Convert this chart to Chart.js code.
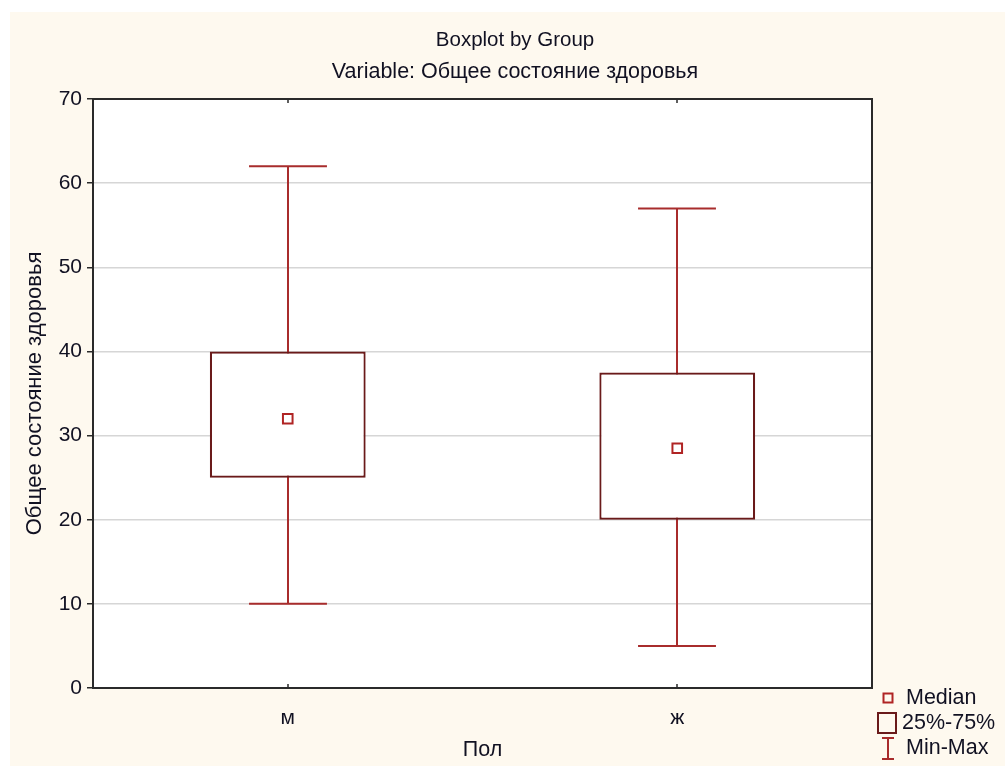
<!DOCTYPE html>
<html>
<head>
<meta charset="utf-8">
<title>Boxplot by Group</title>
<script src="https://cdn.jsdelivr.net/npm/chart.js@4/dist/chart.umd.min.js"></script>
<style>
  html, body { margin: 0; padding: 0; background: #ffffff; }
  #wrap { position: absolute; left: 0; top: 0; width: 1005px; height: 766px; }
</style>
</head>
<body>
<div id="wrap"><canvas id="chart" width="1005" height="766"></canvas></div>
<script>
// Group summary statistics for "Общее состояние здоровья" by sex
const groups = ['м', 'ж'];
const minValues = [10, 5];
const q1Values = [25, 20];
const medianValues = [32, 28.5];
const q3Values = [40, 37.5];
const maxValues = [62, 57];
const yTickValues = [0, 10, 20, 30, 40, 50, 60, 70];

const titleText = 'Boxplot by Group';
const subtitleText = 'Variable: Общее состояние здоровья';
const legendLabels = ['Median', '25%-75%', 'Min-Max'];

const FONT = '"Liberation Sans", Arial, sans-serif';
const BG = '#fef9ef';
const BOX_COLOR = '#6a1a1a';
const WHISKER_COLOR = '#a82c2c';
const MEDIAN_COLOR = '#b02424';
const TEXT_COLOR = '#111122';

// Cream page background, white plot area, headings, frame, inner tick marks
const framePlugin = {
  id: 'frame',
  beforeDraw(chart) {
    const { ctx, chartArea: a } = chart;
    ctx.save();
    ctx.fillStyle = BG;
    ctx.fillRect(10, 12, chart.width - 10, chart.height - 12);
    ctx.fillStyle = '#ffffff';
    ctx.fillRect(a.left, a.top, a.right - a.left, a.bottom - a.top);
    // headings
    ctx.fillStyle = TEXT_COLOR;
    ctx.textAlign = 'center';
    ctx.textBaseline = 'middle';
    ctx.font = '20.5px ' + FONT;
    ctx.fillText(titleText, 515, 40);
    ctx.font = '21.5px ' + FONT;
    ctx.fillText(subtitleText, 515, 72);
    ctx.restore();
  },
  afterDraw(chart) {
    const { ctx, chartArea: a } = chart;
    const x = chart.scales.x;
    ctx.save();
    ctx.strokeStyle = '#2a2a2a';
    ctx.lineWidth = 2;
    ctx.strokeRect(a.left, a.top, a.right - a.left, a.bottom - a.top);
    ctx.lineWidth = 1.5;
    groups.forEach((g, i) => {
      const px = Math.round(x.getPixelForValue(i));
      ctx.beginPath();
      ctx.moveTo(px, a.top);
      ctx.lineTo(px, a.top + 4);
      ctx.moveTo(px, a.bottom);
      ctx.lineTo(px, a.bottom - 4);
      ctx.stroke();
    });
    ctx.restore();
  }
};

// Whiskers with end caps, drawn beneath the boxes
const whiskerPlugin = {
  id: 'whiskers',
  beforeDatasetsDraw(chart) {
    const { ctx } = chart;
    const y = chart.scales.y;
    const boxes = chart.getDatasetMeta(0).data;
    ctx.save();
    ctx.strokeStyle = WHISKER_COLOR;
    ctx.lineWidth = 2;
    boxes.forEach((bar, i) => {
      const cx = Math.round(bar.x);
      const half = bar.width / 4;
      const yMin = y.getPixelForValue(minValues[i]);
      const yMax = y.getPixelForValue(maxValues[i]);
      ctx.beginPath();
      ctx.moveTo(cx, yMin);
      ctx.lineTo(cx, yMax);
      ctx.moveTo(cx - half, yMin);
      ctx.lineTo(cx + half, yMin);
      ctx.moveTo(cx - half, yMax);
      ctx.lineTo(cx + half, yMax);
      ctx.stroke();
    });
    ctx.restore();
  }
};

// Legend for median / quartile box / range, right of the plot
const legendPlugin = {
  id: 'boxLegend',
  afterDraw(chart) {
    const { ctx, chartArea: a } = chart;
    const x0 = a.right + 10;
    ctx.save();
    ctx.font = '21.5px ' + FONT;
    ctx.fillStyle = TEXT_COLOR;
    ctx.textBaseline = 'middle';
    ctx.textAlign = 'left';
    // Median marker
    let yy = a.bottom + 10;
    ctx.strokeStyle = MEDIAN_COLOR;
    ctx.lineWidth = 2;
    ctx.strokeRect(x0 + 1.5, yy - 4.5, 9, 9);
    ctx.fillText(legendLabels[0], x0 + 24, yy);
    // Quartile box
    yy += 25;
    ctx.strokeStyle = BOX_COLOR;
    ctx.strokeRect(x0 - 4, yy - 10, 18, 20);
    ctx.fillText(legendLabels[1], x0 + 20, yy);
    // Range whisker
    yy += 25;
    ctx.strokeStyle = WHISKER_COLOR;
    ctx.beginPath();
    ctx.moveTo(x0, yy - 10); ctx.lineTo(x0 + 12, yy - 10);
    ctx.moveTo(x0 + 6, yy - 10); ctx.lineTo(x0 + 6, yy + 11);
    ctx.moveTo(x0, yy + 11); ctx.lineTo(x0 + 12, yy + 11);
    ctx.stroke();
    ctx.fillText(legendLabels[2], x0 + 24, yy);
    ctx.restore();
  }
};

new Chart(document.getElementById('chart'), {
  type: 'bar',
  data: {
    labels: groups,
    datasets: [
      {
        label: '25%-75%',
        data: groups.map((g, i) => [q1Values[i], q3Values[i]]),
        backgroundColor: '#ffffff',
        borderColor: BOX_COLOR,
        borderWidth: 2.2,
        borderSkipped: false,
        barPercentage: 0.4,
        categoryPercentage: 1.0,
        grouped: false,
        order: 2
      },
      {
        type: 'line',
        label: 'Median',
        data: medianValues,
        showLine: false,
        pointStyle: 'rect',
        pointRadius: 6.8,
        pointHoverRadius: 6.8,
        pointBorderWidth: 2,
        pointBorderColor: MEDIAN_COLOR,
        pointBackgroundColor: '#ffffff',
        order: 1
      }
    ]
  },
  options: {
    responsive: false,
    animation: false,
    events: [],
    layout: { padding: { left: 0, right: 133, top: 99, bottom: 0 } },
    plugins: {
      legend: { display: false },
      tooltip: { enabled: false },
      title: { display: false },
      subtitle: { display: false }
    },
    scales: {
      x: {
        type: 'category',
        offset: true,
        grid: { display: false, drawTicks: false },
        border: { display: false },
        ticks: {
          color: TEXT_COLOR,
          padding: 18,
          font: { family: FONT, size: 21, lineHeight: 1.2 }
        },
        title: {
          display: true,
          text: 'Пол',
          color: TEXT_COLOR,
          font: { family: FONT, size: 21.5, lineHeight: 1.2 },
          padding: { top: 0, bottom: 3 }
        },
        afterFit(scale) { scale.height = 78; }
      },
      y: {
        min: 0,
        max: 70,
        afterBuildTicks(scale) { scale.ticks = yTickValues.map(v => ({ value: v })); },
        grid: {
          color: '#d6d6d6',
          lineWidth: 1.5,
          tickLength: 6,
          tickColor: '#2a2a2a',
          tickWidth: 1.5
        },
        border: { display: false },
        ticks: {
          color: TEXT_COLOR,
          padding: 5,
          font: { family: FONT, size: 21, lineHeight: 1.2 }
        },
        title: {
          display: true,
          text: 'Общее состояние здоровья',
          color: TEXT_COLOR,
          font: { family: FONT, size: 22, lineHeight: 1.2 },
          padding: { top: 22, bottom: 0 }
        },
        afterFit(scale) { scale.width = 93; }
      }
    }
  },
  plugins: [framePlugin, whiskerPlugin, legendPlugin]
});
</script>
</body>
</html>
